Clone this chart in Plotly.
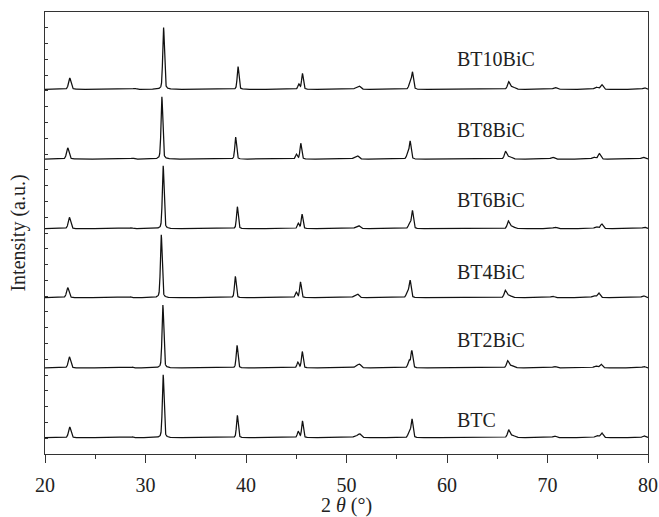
import numpy as np
import plotly.graph_objects as go

# ---------------- data ----------------
samples = ["BTC", "BT2BiC", "BT4BiC", "BT6BiC", "BT8BiC", "BT10BiC"]
offsets = [1.03, 5.45, 9.90, 14.27, 18.68, 23.10]          # vertical stacking offsets (a.u.)
label_x = [60.8, 60.8, 60.8, 60.8, 60.8, 60.8]
label_y = [2.15, 7.22, 11.55, 16.09, 20.54, 25.03]

# peak widths (FWHM, degrees) shared by all samples
peak_fwhm = [0.28, 0.35, 0.20, 0.20, 0.22, 0.20, 0.40, 0.35, 0.25, 0.22,
             0.26, 0.55, 0.40, 0.40, 0.30, 0.40]

# peak positions (2θ) per sample
pos_BTC     = [22.46, 28.70, 31.76, 39.14, 45.20, 45.62, 50.90, 51.30, 56.25, 56.52, 66.13, 66.50, 70.70, 74.90, 75.40, 79.60]
pos_BT2BiC  = [22.43, 28.70, 31.73, 39.11, 45.16, 45.60, 50.95, 51.27, 56.22, 56.50, 66.03, 66.40, 70.70, 74.77, 75.33, 79.60]
pos_BT4BiC  = [22.26, 28.50, 31.57, 38.94, 45.00, 45.42, 50.80, 51.08, 56.07, 56.33, 65.80, 66.15, 70.50, 74.60, 75.10, 79.55]
pos_BT6BiC  = [22.43, 28.60, 31.76, 39.14, 45.20, 45.58, 50.95, 51.22, 56.28, 56.56, 66.10, 66.45, 70.75, 74.85, 75.40, 79.65]
pos_BT8BiC  = [22.26, 28.70, 31.63, 38.97, 45.02, 45.45, 50.80, 51.08, 56.08, 56.33, 65.82, 66.20, 70.50, 74.60, 75.16, 79.50]
pos_BT10BiC = [22.46, 28.90, 31.80, 39.21, 45.26, 45.62, 50.95, 51.25, 56.30, 56.56, 66.13, 66.50, 70.75, 74.84, 75.40, 79.65]

# relative peak intensities (%) per sample
int_BTC     = [17.0, 1.2, 100, 35.5, 10.0, 26.5, 3.0, 6.0, 11.0, 29.0, 11.5, 4.0, 2.7, 3.5, 7.5, 3.0]
int_BT2BiC  = [17.5, 1.2, 100, 36.0, 9.0, 26.0, 2.0, 6.0, 11.0, 27.0, 10.5, 4.0, 2.3, 3.0, 6.0, 2.3]
int_BT4BiC  = [16.0, 1.2, 100, 34.0, 8.5, 25.0, 2.0, 5.5, 10.5, 27.0, 10.5, 4.0, 2.3, 3.0, 7.5, 3.0]
int_BT6BiC  = [18.0, 1.5, 100, 35.0, 8.5, 23.0, 2.0, 4.5, 9.5, 28.5, 11.0, 4.0, 2.5, 3.0, 7.5, 2.5]
int_BT8BiC  = [18.0, 1.5, 99, 35.0, 7.5, 25.0, 2.0, 5.0, 7.5, 28.0, 11.5, 4.0, 3.0, 3.0, 8.5, 3.0]
int_BT10BiC = [18.0, 1.5, 98, 36.0, 8.0, 25.0, 2.0, 5.0, 9.0, 27.0, 11.0, 4.0, 3.0, 3.5, 7.5, 2.5]

positions = [pos_BTC, pos_BT2BiC, pos_BT4BiC, pos_BT6BiC, pos_BT8BiC, pos_BT10BiC]
intensities = [int_BTC, int_BT2BiC, int_BT4BiC, int_BT6BiC, int_BT8BiC, int_BT10BiC]

x_ticks = [20, 30, 40, 50, 60, 70, 80]
intensity_scale = 0.0399   # a.u. per % on the stacked axis

# ---------------- build profiles from the peak tables ----------------
two_theta = np.arange(20.0, 80.0001, 0.01)


def pseudo_voigt(x, c, fwhm, eta=0.35):
    d = (x - c) / fwhm
    g = np.exp(-4 * np.log(2) * d ** 2)
    l = 1.0 / (1.0 + 4 * d ** 2)
    return eta * l + (1 - eta) * g


fig = go.Figure()
font_family = "Liberation Serif"
txt_color = "#222222"

for name, off, pos, inten in zip(samples, offsets, positions, intensities):
    prof = np.zeros_like(two_theta)
    for c, h, w in zip(pos, inten, peak_fwhm):
        prof += h * pseudo_voigt(two_theta, c, w)
    fig.add_trace(go.Scatter(
        x=two_theta, y=off + intensity_scale * prof, mode="lines",
        line=dict(color="#111111", width=1.25), name=name, showlegend=False,
        hoverinfo="skip"))

for name, lx, ly in zip(samples, label_x, label_y):
    fig.add_annotation(x=lx, y=ly, text=name, showarrow=False,
                       xanchor="left", yanchor="middle",
                       font=dict(family=font_family, size=20, color=txt_color))

fig.update_layout(
    width=659, height=517,
    margin=dict(l=45, r=11, t=12, b=63),
    paper_bgcolor="white", plot_bgcolor="white",
    font=dict(family=font_family, size=20, color=txt_color),
)
fig.update_xaxes(
    range=[20, 80], tickvals=x_ticks, ticktext=[str(v) for v in x_ticks],
    ticks="outside", ticklen=8, tickwidth=1.2, tickcolor="#333333",
    minor=dict(ticks="outside", ticklen=4, tickwidth=1.2, tickcolor="#333333", dtick=5, tick0=20),
    showline=True, linecolor="#333333", linewidth=1.3, mirror=True,
    showgrid=False, zeroline=False, automargin=False, ticklabelstandoff=5,
    tickfont=dict(family=font_family, size=20, color=txt_color),
    title=dict(text="2 <i>θ</i> (°)", font=dict(family=font_family, size=20, color=txt_color), standoff=12),
)
fig.update_yaxes(
    range=[0, 28], dtick=1, tick0=0,
    ticks="inside", ticklen=3, tickwidth=1, tickcolor="#333333",
    showticklabels=False,
    showline=True, linecolor="#333333", linewidth=1.3, mirror=True,
    showgrid=False, zeroline=False, automargin=False,
    title=dict(text="Intensity (a.u.)", font=dict(family=font_family, size=20, color=txt_color), standoff=12),
)

fig.write_html("out.html", config={"displayModeBar": False},
               post_script="document.body.style.margin='0px';")
